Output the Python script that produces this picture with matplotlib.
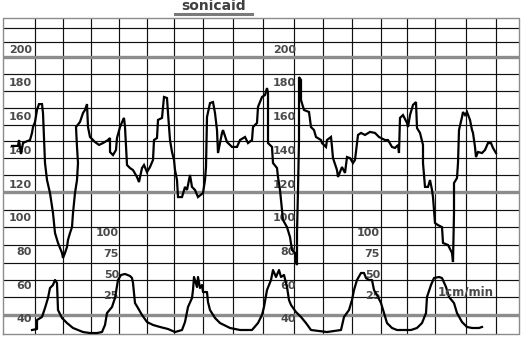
import matplotlib
matplotlib.use("Agg")
import matplotlib.pyplot as plt
from matplotlib.lines import Line2D

# ---------------- data ----------------
# time axis: seconds along the paper strip
fhr_time = [24, 36, 38, 42, 46, 50, 60, 64, 66, 70,
            74, 78, 84, 86, 90, 94, 100, 106, 110, 116,
            124, 126, 130, 134, 136, 140, 144, 146, 150, 154,
            156, 154, 152, 160, 166, 170, 174, 176, 180, 190,
            198, 206, 216, 220, 220, 226, 232, 234, 240, 246,
            248, 250, 252, 254, 260, 266, 274, 278, 284, 288,
            294, 300, 306, 308, 314, 316, 324, 328, 334, 336,
            340, 344, 348, 350, 354, 356, 364, 370, 374, 380,
            384, 390, 396, 406, 410, 412, 414, 420, 426, 430,
            434, 436, 444, 446, 454, 464, 474, 480, 490, 496,
            504, 506, 514, 516, 524, 530, 534, 536, 536, 544,
            546, 554, 556, 560, 566, 574, 580, 584, 590, 592,
            594, 594, 596, 598, 598, 598, 602, 602, 608, 618,
            622, 628, 632, 642, 644, 652, 654, 662, 664, 666,
            674, 676, 684, 690, 694, 700, 706, 710, 716, 722,
            730, 740, 750, 758, 770, 776, 784, 790, 796, 798,
            800, 806, 814, 816, 820, 826, 832, 834, 840, 846,
            846, 850, 856, 860, 864, 866, 870, 876, 884, 886,
            896, 904, 906, 908, 908, 914, 916, 918, 924, 926,
            930, 934, 940, 944, 946, 950, 952, 956, 964, 970,
            976, 982, 986, 992]

fhr_bpm = [147.3, 147.3, 150.8, 142.5, 149.0, 149.6, 150.8, 155.0, 158.5, 161.5,
           168.6, 172.1, 172.1, 166.8, 137.2, 127.1, 119.4, 107.5, 95.7, 89.8,
           83.9, 80.9, 83.9, 87.4, 91.6, 95.7, 99.2, 107.5, 119.4, 127.1,
           137.2, 146.7, 158.5, 161.5, 166.8, 168.6, 172.1, 158.5, 152.6, 149.6,
           147.9, 149.0, 150.8, 152.0, 143.7, 141.9, 144.9, 152.0, 158.5, 162.7,
           163.9, 158.5, 146.7, 136.0, 134.2, 133.0, 128.9, 125.9, 134.2, 136.0,
           131.8, 134.8, 139.0, 150.8, 152.0, 162.7, 163.9, 176.3, 175.7, 166.8,
           150.8, 143.7, 139.0, 133.0, 127.1, 117.0, 117.0, 123.0, 121.2, 130.1,
           123.0, 121.2, 117.0, 119.4, 127.1, 134.8, 164.4, 172.7, 173.3, 166.8,
           156.7, 143.1, 155.0, 156.7, 149.6, 146.7, 146.7, 150.8, 152.6, 149.0,
           150.8, 158.5, 160.9, 170.4, 176.3, 177.5, 181.6, 178.7, 149.0, 146.7,
           137.2, 134.2, 128.9, 121.2, 103.4, 99.2, 93.3, 85.6, 83.9, 78.5,
           76.7, 95.7, 121.2, 150.8, 174.5, 188.1, 186.4, 174.5, 168.6, 167.4,
           158.5, 156.7, 152.6, 150.8, 149.0, 146.7, 150.8, 152.6, 146.7, 140.1,
           133.0, 128.9, 134.8, 131.3, 140.7, 140.1, 137.2, 139.0, 153.8, 155.0,
           153.8, 155.6, 155.0, 152.6, 150.8, 150.8, 146.7, 146.1, 147.9, 143.1,
           163.9, 165.6, 160.9, 158.5, 165.6, 171.6, 173.3, 157.9, 155.0, 147.9,
           137.2, 123.0, 123.0, 127.1, 121.2, 117.0, 101.6, 100.4, 99.2, 89.8,
           88.6, 83.9, 78.5, 107.5, 125.3, 128.3, 137.2, 156.7, 164.4, 167.4,
           165.6, 167.4, 162.7, 156.7, 155.0, 146.7, 140.7, 143.7, 143.1, 144.9,
           149.0, 149.0, 146.1, 143.1]

toco_time = [64, 74, 74, 84, 90, 96, 100, 106, 110, 114,
             116, 124, 134, 146, 166, 180, 194, 204, 210, 214,
             224, 230, 236, 242, 250, 260, 264, 266, 270, 276,
             284, 294, 306, 320, 336, 350, 364, 370, 376, 384,
             386, 388, 394, 396, 400, 404, 406, 414, 416, 420,
             430, 440, 460, 480, 504, 516, 524, 528, 534, 542,
             546, 552, 558, 562, 568, 574, 578, 582, 592, 602,
             612, 622, 654, 682, 688, 698, 704, 708, 714, 722,
             728, 732, 738, 744, 748, 754, 762, 768, 774, 784,
             794, 822, 834, 844, 852, 854, 862, 868, 878, 884,
             892, 898, 908, 914, 924, 934, 944, 958, 964]

toco_val = [0, 1.2, 11.9, 15.5, 26.2, 38.1, 50.0, 53.6, 59.5, 56.0,
            23.8, 14.3, 8.3, 2.4, -2.4, -3.6, -3.6, -2.4, 6.0, 20.2,
            27.4, 38.1, 59.5, 65.5, 66.7, 64.3, 61.9, 56.0, 32.1, 26.2,
            17.9, 9.5, 6.0, 3.6, 1.2, -2.4, 0, 9.5, 27.4, 38.1,
            47.6, 63.1, 51.2, 63.1, 50.0, 53.6, 45.2, 45.2, 33.3, 23.8,
            14.3, 8.3, 2.4, 0, 0, 8.3, 17.9, 27.4, 47.6, 59.5,
            71.4, 63.1, 71.4, 63.1, 65.5, 51.2, 35.7, 29.8, 21.4, 15.5,
            8.3, 0, -2.4, 0, 15.5, 23.8, 35.7, 47.6, 59.5, 67.9,
            67.9, 61.9, 59.5, 59.5, 47.6, 41.7, 32.1, 20.2, 8.3, 2.4,
            0, 0, 2.4, 8.3, 20.2, 39.3, 53.6, 61.9, 63.1, 61.9,
            51.2, 39.3, 32.1, 20.2, 9.5, 3.6, 2.4, 2.4, 3.6]

fhr_labels = [200, 180, 160, 140, 120, 100, 80, 60, 40]
toco_labels = [100, 75, 50, 25]
title_text = "sonicaid"
speed_text = "1cm/min"

# ---------------- layout ----------------
W, H = 528, 338
fig = plt.figure(figsize=(W / 100, H / 100), dpi=100)
fig.patch.set_facecolor("white")

ax = fig.add_axes([0, 0, 1, 1])
ax.set_xlim(0, 1056)
ax.set_ylim(33.48, 233.78)
ax.axis("off")

ax2 = fig.add_axes([0, 0, 1, 1], sharex=ax)
ax2.set_ylim(-9.52, 392.86)
ax2.axis("off")
ax2.patch.set_alpha(0)

x_left, x_right = 6, 1038
y_bot, y_top = 35.8, 223.1

# grid
v_grid = [70, 126, 182, 238, 294, 348, 406, 466, 526, 588, 646, 704,
          762, 814, 870, 932, 992]
h_grid = [217.2, 208.9, 190, 180, 170, 160, 150, 140, 130,
          109.3, 99.0, 88.6, 78.2, 67.9, 57.5]
ax.vlines(v_grid, y_bot, y_top, color="#111111", lw=0.85, zorder=1)
ax.hlines(h_grid, x_left, x_right, color="#111111", lw=0.85, zorder=1)
ax.hlines([200, 120, 47.1], x_left, x_right, color="#8c8c8c", lw=2.4, zorder=2)
# border
ax.plot([x_left, x_right, x_right, x_left, x_left],
        [y_bot, y_bot, y_top, y_top, y_bot],
        color="#8c8c8c", lw=1.0, zorder=2)

# labels
txt_kw = dict(fontsize=8, fontweight="bold", color="#4a4a4a",
              fontfamily="DejaVu Sans", ha="right", va="center", zorder=3,
              textcoords="offset points")
for v in fhr_labels:
    ax.annotate(str(v), (64, v), xytext=(0, 5.4), **txt_kw)
    ax.annotate(str(v), (592, v), xytext=(0, 5.4), **txt_kw)
for v in toco_labels:
    ax2.annotate(str(v), (238, v), xytext=(0, 9.4), **txt_kw)
    ax2.annotate(str(v), (760, v), xytext=(0, 9.4), **txt_kw)

fig.text(466 / W, 1 - 292 / H, speed_text, fontsize=8.5, fontweight="bold",
         color="#4a4a4a", ha="center", va="center")
fig.text(214 / W, 1 - 6.5 / H, title_text, fontsize=10, fontweight="bold",
         color="#404040", ha="center", va="center")
fig.add_artist(Line2D([175 / W, 252 / W], [1 - 13.5 / H, 1 - 13.5 / H],
                      color="#7a7a7a", lw=2.2))

# traces
ax.plot(fhr_time, fhr_bpm, color="black", lw=1.6, zorder=5,
        solid_joinstyle="miter")
ax2.plot(toco_time, toco_val, color="black", lw=1.6, zorder=5)

fig.savefig("out.png", dpi=100, facecolor="white")
